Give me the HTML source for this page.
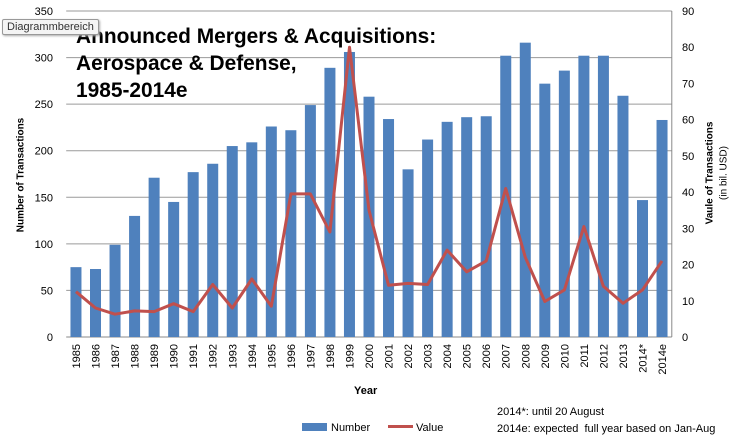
<!DOCTYPE html>
<html><head><meta charset="utf-8"><style>
body{margin:0;background:#fff;}
svg{display:block;font-family:"Liberation Sans",sans-serif;}
</style></head><body>
<svg id="chart" width="739" height="443">
</svg>
<script>
const categories=["1985","1986","1987","1988","1989","1990","1991","1992","1993","1994","1995","1996","1997","1998","1999","2000","2001","2002","2003","2004","2005","2006","2007","2008","2009","2010","2011","2012","2013","2014*","2014e"];
const numberValues=[75,73,99,130,171,145,177,186,205,209,226,222,249,289,306,258,234,180,212,231,236,237,302,316,272,286,302,302,259,147,233];
const valueValues=[12.5,8,6.3,7.2,7,9.2,7,14.5,8,16,8.5,39.5,39.5,29,80,35,14.3,14.8,14.5,24,18,21,41,22,9.8,13,30.5,14,9.3,13,21];
const leftTicks=[0,50,100,150,200,250,300,350];
const rightTicks=[0,10,20,30,40,50,60,70,80,90];

const NS="http://www.w3.org/2000/svg";
const svg=document.getElementById('chart');
const X0=66.2,X1=671.8,YT=11,YB=337;
const step=(X1-X0)/categories.length;
const xc=i=>X0+step*(i+0.5);
const yL=v=>YB-(v/350)*(YB-YT);
const yR=v=>YB-(v/90)*(YB-YT);
function mk(tag,attrs,text){const e=document.createElementNS(NS,tag);for(const k in attrs)e.setAttribute(k,attrs[k]);if(text!=null)e.textContent=text;svg.appendChild(e);return e;}

leftTicks.forEach(t=>{
  const g=mk('line',{x1:X0,x2:X1,y1:yL(t),y2:yL(t),stroke:t===0?'#888':'#9a9a9a','stroke-width':1});
  
  
  const l=mk('text',{x:53,y:yL(t)+4,'text-anchor':'end','font-size':11,fill:'#000'},t);
  
  
});
rightTicks.forEach(t=>{
  const l=mk('text',{x:682,y:yR(t)+4,'font-size':11,fill:'#000'},t);
  
  
});
mk('line',{x1:X1,x2:X1,y1:YT,y2:YB,stroke:'#888'});

numberValues.forEach((v,i)=>{
  const r=mk('rect',{x:xc(i)-5.5,y:yL(v),width:11,height:YB-yL(v),fill:'#4f81bd'});
  
  
});
const pts=valueValues.map((v,i)=>xc(i).toFixed(1)+','+yR(v).toFixed(1)).join(' ');
const pl=mk('polyline',{points:pts,fill:'none',stroke:'#c0504d','stroke-width':3,'stroke-linejoin':'round'});



categories.forEach((c,i)=>{
  const t=mk('text',{transform:`translate(${xc(i)+4},344) rotate(-90)`,'text-anchor':'end','font-size':11,fill:'#000'},c);
  
  
});
</script>
<div style="position:absolute;left:0;top:0;width:739px;height:443px;pointer-events:none;font-family:'Liberation Sans',sans-serif;">
  <div style="position:absolute;left:76px;top:23px;font-size:20.9px;font-weight:bold;line-height:27px;color:#000;">Announced Mergers &amp; Acquisitions:<br>Aerospace &amp; Defense,<br>1985-2014e</div>
  <div style="position:absolute;left:2px;top:19px;padding:1px 4px;font-size:11px;background:#f4f4f4;border:1px solid #999;border-radius:2px;box-shadow:1px 1px 2px #aaa;color:#333;">Diagrammbereich</div>
  <div style="position:absolute;left:21px;top:175px;width:0;height:0;"><div style="position:absolute;transform:translate(-50%,-50%) rotate(-90deg);white-space:nowrap;font-size:10px;font-weight:bold;">Number of Transactions</div></div>
  <div style="position:absolute;left:710px;top:173px;width:0;height:0;"><div style="position:absolute;transform:translate(-50%,-50%) rotate(-90deg);white-space:nowrap;font-size:10px;font-weight:bold;">Vaule of Transactions</div></div>
  <div style="position:absolute;left:724px;top:173px;width:0;height:0;"><div style="position:absolute;transform:translate(-50%,-50%) rotate(-90deg);white-space:nowrap;font-size:10px;">(in bil. USD)</div></div>
  <div style="position:absolute;left:354px;top:385px;font-size:11px;font-weight:bold;">Year</div>
  <div style="position:absolute;left:302px;top:422px;font-size:11px;"><span style="display:inline-block;width:25px;height:8px;background:#4f81bd;margin-right:4px;"></span>Number</div>
  <div style="position:absolute;left:388px;top:422px;font-size:11px;"><span style="display:inline-block;width:25px;height:3px;background:#c0504d;margin-right:3px;vertical-align:3px;"></span>Value</div>
  <div style="position:absolute;left:497px;top:404px;font-size:11px;line-height:17px;">2014*: until 20 August<br>2014e: expected&nbsp; full year based on Jan-Aug</div>
</div>
</body></html>
